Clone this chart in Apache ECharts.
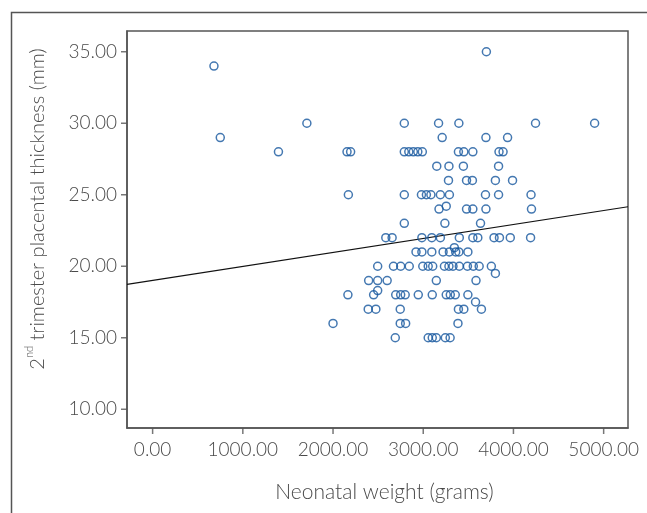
<!DOCTYPE html>
<html>
<head>
<meta charset="utf-8">
<script src="https://cdn.jsdelivr.net/npm/echarts@6/dist/echarts.min.js"></script>
<style>
html,body{margin:0;padding:0;background:#fff;}
#chart{width:647px;height:513px;}
</style>
</head>
<body>
<div id="chart"></div>
<script>
// Neonatal weight (grams) and 2nd trimester placental thickness (mm)
var weight = [
  680,
  3700,
  1710, 2790, 3170, 3395, 4245, 4900,
  750, 3210, 3695, 3935,
  1395, 2155, 2195, 2790, 2840, 2890, 2940, 2990, 3390, 3450, 3550, 3840, 3885,
  3150, 3285, 3445, 3835,
  3280, 3480, 3545, 3800, 3990,
  2170, 2790, 2980, 3035, 3085, 3190, 3290, 3690, 3835, 4195,
  3255,
  3175, 3480, 3550, 3695, 4200,
  2790, 3240, 3635,
  2585, 2655, 2985, 3095, 3190, 3400, 3550, 3605, 3785, 3845, 3965, 4190,
  3345,
  2920, 2985, 3095, 3220, 3290, 3360, 3395, 3495,
  2495, 2670, 2750, 2845, 2995, 3055, 3105, 3235, 3285, 3330, 3400, 3490, 3555, 3620, 3755,
  3800,
  2395, 2495, 2600, 3145, 3585,
  2495,
  2165, 2450, 2695, 2750, 2800, 2945, 3100, 3255, 3300, 3355, 3495,
  3580,
  2390, 2475, 2745, 3390, 3450, 3645,
  2000, 2745, 2805, 3385,
  2690, 3055, 3100, 3145, 3245, 3298
];
var thickness = [
  34,
  35,
  30, 30, 30, 30, 30, 30,
  29, 29, 29, 29,
  28, 28, 28, 28, 28, 28, 28, 28, 28, 28, 28, 28, 28,
  27, 27, 27, 27,
  26, 26, 26, 26, 26,
  25, 25, 25, 25, 25, 25, 25, 25, 25, 25,
  24.2,
  24, 24, 24, 24, 24,
  23, 23, 23,
  22, 22, 22, 22, 22, 22, 22, 22, 22, 22, 22, 22,
  21.3,
  21, 21, 21, 21, 21, 21, 21, 21,
  20, 20, 20, 20, 20, 20, 20, 20, 20, 20, 20, 20, 20, 20, 20,
  19.5,
  19, 19, 19, 19, 19,
  18.3,
  18, 18, 18, 18, 18, 18, 18, 18, 18, 18, 18,
  17.5,
  17, 17, 17, 17, 17, 17,
  16, 16, 16, 16,
  15, 15, 15, 15, 15, 15
];
// Fitted regression line end points
var fitWeight = [-284, 5270];
var fitThickness = [18.73, 24.16];
// Tick labels
var xTicks = [0, 1000, 2000, 3000, 4000, 5000];
var yTicks = [10, 15, 20, 25, 30, 35];
// Axis ranges
var xRange = [-284, 5270];
var yRange = [8.69, 36.45];

var points = weight.map(function (w, i) { return [w, thickness[i]]; });
var fitLine = fitWeight.map(function (w, i) { return [w, fitThickness[i]]; });
var xTickMarks = xTicks.map(function (v) { return [v, yRange[0]]; });
var yTickMarks = yTicks.map(function (v) { return [xRange[0], v]; });

var FONT = 'Lato';
var FW = 300;
var TXT = '#4a4a4a';
var AX = '#555555';
var TICK = 6;

var chart = echarts.init(document.getElementById('chart'), null, {renderer: 'canvas'});
chart.setOption({
  animation: false,
  backgroundColor: '#ffffff',
  grid: {left: 127, top: 31, right: 19, bottom: 85, show: true, borderColor: AX, borderWidth: 1.5, backgroundColor: 'transparent'},
  xAxis: {
    type: 'value', min: xRange[0], max: xRange[1],
    name: 'Neonatal weight (grams)', nameLocation: 'middle', nameGap: 54,
    nameTextStyle: {fontFamily: FONT, fontWeight: FW, fontSize: 21, color: TXT, padding: [0, 0, 0, 14]},
    axisLine: {show: true, onZero: false, lineStyle: {color: AX, width: 1.5}},
    splitLine: {show: false},
    axisTick: {show: false},
    axisLabel: {customValues: xTicks, margin: 12, fontFamily: FONT, fontWeight: FW, fontSize: 19, color: TXT,
      formatter: function (v) { return v.toFixed(2); }}
  },
  yAxis: {
    type: 'value', min: yRange[0], max: yRange[1],
    axisLine: {show: true, onZero: false, lineStyle: {color: AX, width: 1.5}},
    splitLine: {show: false},
    axisTick: {show: false},
    axisLabel: {customValues: yTicks, margin: 10, fontFamily: FONT, fontWeight: FW, fontSize: 19, color: TXT,
      formatter: function (v) { return v.toFixed(2); }}
  },
  graphic: [
    {type: 'rect', left: 9, top: 10, silent: true,
      shape: {x: 0, y: 0, width: 700, height: 600},
      style: {fill: 'none', stroke: AX, lineWidth: 1.5}},
    {type: 'text', x: 36, y: 209, rotation: Math.PI / 2, silent: true,
      style: {
        text: '{a|2}{s|nd}{a| trimester placental thickness (mm)}',
        align: 'center', verticalAlign: 'middle',
        rich: {
          a: {fontFamily: FONT, fontWeight: FW, fontSize: 20, fill: TXT, lineHeight: 24, verticalAlign: 'bottom'},
          s: {fontFamily: FONT, fontWeight: FW, fontSize: 11, fill: TXT, lineHeight: 24, verticalAlign: 'top', padding: [0, 0, 10, 0]}
        }
      }}
  ],
  series: [
    {
      type: 'scatter', data: points, symbol: 'circle', symbolSize: 8,
      itemStyle: {color: 'transparent', borderColor: '#15569e', borderWidth: 1.5},
      z: 3
    },
    {
      type: 'line', data: fitLine, symbol: 'none', silent: true,
      lineStyle: {color: '#111111', width: 1.2},
      z: 2
    },
    {
      // outward tick marks on the x axis
      type: 'scatter', data: xTickMarks, symbol: 'rect', symbolSize: [1.5, TICK],
      symbolOffset: [0, TICK / 2], clip: false, silent: true,
      itemStyle: {color: AX}, z: 4
    },
    {
      // outward tick marks on the y axis
      type: 'scatter', data: yTickMarks, symbol: 'rect', symbolSize: [TICK, 1.5],
      symbolOffset: [-TICK / 2, 0], clip: false, silent: true,
      itemStyle: {color: AX}, z: 4
    }
  ]
});
</script>
</body>
</html>
